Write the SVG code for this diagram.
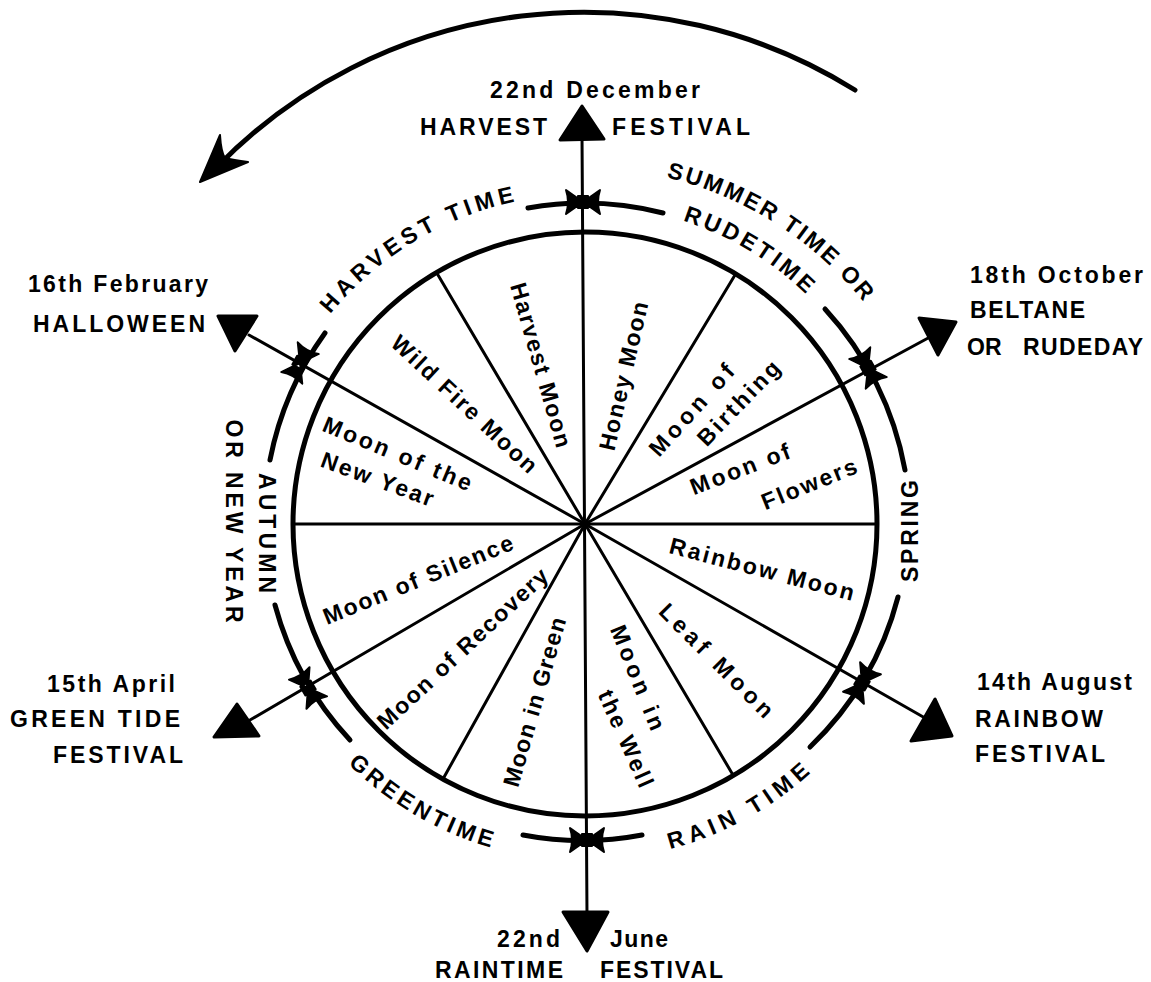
<svg xmlns="http://www.w3.org/2000/svg" width="1151" height="982" viewBox="0 0 1151 982">
<style>
.t{font-family:"Liberation Sans",Arial,Helvetica,sans-serif;font-weight:bold;fill:#000}
.L{font-size:23px}
.m{font-size:23px}
.ln{stroke:#000;stroke-width:3;fill:none;stroke-linecap:round}
.arc{stroke:#000;stroke-width:5;fill:none;stroke-linecap:round}
.head{fill:#000;stroke:#000;stroke-width:3;stroke-linejoin:round}
</style>
<defs>
<path id="bow" d="M0,0 L-17,-12 Q-13,0 -17,12 Z M0,0 L17,-12 Q13,0 17,12 Z M-5,-6 L5,-6 L5,6 L-5,6 Z" stroke="#000" stroke-width="2" stroke-linejoin="round"/>
<path id="pHarvestTime" d="M273.0,416.6 A330,330 0 0 1 636.6,198.1"/>
<path id="pSummer" d="M538.4,170.1 A361,361 0 0 1 925.5,416.6"/>
<path id="pRude" d="M536.3,209.8 A315,315 0 0 1 886.0,421.5"/>
<path id="pRain" d="M520.3,853.7 A336,336 0 0 0 898.5,645.0"/>
<path id="pGreen" d="M268.0,638.4 A337,337 0 0 0 642.7,856.0"/>
</defs>
<rect width="1151" height="982" fill="#fff"/>

<g id="wheel">
<circle cx="585" cy="524" r="292" fill="none" stroke="#000" stroke-width="5"/>
<line class="ln" x1="293" y1="524" x2="877" y2="524"/>
<line class="ln" x1="585" y1="524" x2="438" y2="275"/>
<line class="ln" x1="585" y1="524" x2="735" y2="275"/>
<line class="ln" x1="585" y1="524" x2="733" y2="775"/>
<line class="ln" x1="585" y1="524" x2="443" y2="779"/>
</g>

<g id="connectors">
<line class="ln" x1="582" y1="136" x2="587" y2="915"/>
<line class="ln" x1="585" y1="524" x2="249" y2="335"/>
<line class="ln" x1="585" y1="524" x2="930" y2="337"/>
<line class="ln" x1="585" y1="524" x2="250" y2="720"/>
<line class="ln" x1="585" y1="524" x2="925" y2="718"/>
<path class="arc" d="M528,208 A321,321 0 0 1 663,213"/>
<path class="arc" d="M825,309 A322,322 0 0 1 905,470"/>
<path class="arc" d="M898,597 A319,319 0 0 1 810,747"/>
<path class="arc" d="M523,835 A317,317 0 0 0 642,835"/>
<path class="arc" d="M275,605 A320,320 0 0 0 350,740"/>
<path class="arc" d="M325,333 A322,322 0 0 0 270,460"/>
<use href="#bow" transform="translate(583,202)"/>
<use href="#bow" transform="translate(868,368) rotate(61)"/>
<use href="#bow" transform="translate(862,683) rotate(-60)"/>
<use href="#bow" transform="translate(587,840)"/>
<use href="#bow" transform="translate(308,688) rotate(59)"/>
<use href="#bow" transform="translate(300,363) rotate(-61)"/>
<polygon class="head" points="582,106 604,139 560,140"/>
<polygon class="head" points="563,912 608,912 587,951"/>
<polygon class="head" points="218,316 257,316 235,351"/>
<polygon class="head" points="919,318 956,322 938,355"/>
<polygon class="head" points="237,704 214,737 259,736"/>
<polygon class="head" points="935,699 911,741 952,736"/>
<path d="M855,90 A512,512 0 0 0 216,168" fill="none" stroke="#000" stroke-width="5" stroke-linecap="round"/>
<path d="M200,182 L220,135 Q221,152 225,158 Q233,160 248,162 Z" fill="#000" stroke="#000" stroke-width="2" stroke-linejoin="round"/>
</g>

<g id="n-dec22">
<text class="t L" x="490" y="98" textLength="210" lengthAdjust="spacing">22nd December</text>
<text class="t L" x="420" y="135" textLength="127" lengthAdjust="spacing">HARVEST</text>
<text class="t L" x="612" y="135" textLength="138" lengthAdjust="spacing">FESTIVAL</text>
</g>
<g id="n-feb16">
<text class="t L" x="28" y="292" textLength="180" lengthAdjust="spacing">16th February</text>
<text class="t L" x="33" y="332" textLength="172" lengthAdjust="spacing">HALLOWEEN</text>
</g>
<g id="n-oct18">
<text class="t L" x="970" y="283" textLength="173" lengthAdjust="spacing">18th October</text>
<text class="t L" x="970" y="318" textLength="115" lengthAdjust="spacing">BELTANE</text>
<text class="t L" x="967" y="355">OR</text>
<text class="t L" x="1023" y="355" textLength="120" lengthAdjust="spacing">RUDEDAY</text>
</g>
<g id="n-apr15">
<text class="t L" x="47" y="692" textLength="128" lengthAdjust="spacing">15th April</text>
<text class="t L" x="10" y="727" textLength="170" lengthAdjust="spacing">GREEN TIDE</text>
<text class="t L" x="53" y="763" textLength="130" lengthAdjust="spacing">FESTIVAL</text>
</g>
<g id="n-aug14">
<text class="t L" x="977" y="690" textLength="155" lengthAdjust="spacing">14th August</text>
<text class="t L" x="975" y="727" textLength="128" lengthAdjust="spacing">RAINBOW</text>
<text class="t L" x="975" y="762" textLength="130" lengthAdjust="spacing">FESTIVAL</text>
</g>
<g id="n-jun22">
<text class="t L" x="497" y="947" textLength="63" lengthAdjust="spacing">22nd</text>
<text class="t L" x="610" y="947" textLength="58" lengthAdjust="spacing">June</text>
<text class="t L" x="435" y="978" textLength="128" lengthAdjust="spacing">RAINTIME</text>
<text class="t L" x="600" y="978" textLength="123" lengthAdjust="spacing">FESTIVAL</text>
</g>

<g id="seasons">
<text class="t L" letter-spacing="4.5" text-anchor="middle"><textPath href="#pHarvestTime" startOffset="50%">HARVEST TIME</textPath></text>
<text class="t L" letter-spacing="2.5" text-anchor="middle"><textPath href="#pSummer" startOffset="50%">SUMMER TIME OR</textPath></text>
<text class="t L" letter-spacing="3.5" text-anchor="middle"><textPath href="#pRude" startOffset="50%">RUDETIME</textPath></text>
<text class="t L" letter-spacing="5.5" text-anchor="middle"><textPath href="#pRain" startOffset="50%">RAIN TIME</textPath></text>
<text class="t L" letter-spacing="3.8" text-anchor="middle"><textPath href="#pGreen" startOffset="50%">GREENTIME</textPath></text>
<text class="t L" text-anchor="middle" transform="translate(918,531) rotate(-90)" textLength="102" lengthAdjust="spacing">SPRING</text>
<text class="t L" text-anchor="middle" transform="translate(259,533) rotate(90)" textLength="120" lengthAdjust="spacing">AUTUMN</text>
<text class="t L" text-anchor="middle" transform="translate(226,521) rotate(90)" textLength="203" lengthAdjust="spacing">OR NEW YEAR</text>
</g>

<g id="moons">
<g id="m-harvest"><text class="t m" text-anchor="middle" y="8" transform="translate(541,365) rotate(74)" textLength="170" lengthAdjust="spacing">Harvest Moon</text></g>
<g id="m-wildfire"><text class="t m" text-anchor="middle" y="8" transform="translate(464.5,404) rotate(43)" textLength="190" lengthAdjust="spacing">Wild Fire Moon</text></g>
<g id="m-honey"><text class="t m" text-anchor="middle" y="8" transform="translate(623.5,376) rotate(-77)" textLength="152" lengthAdjust="spacing">Honey Moon</text></g>
<g id="m-birthing">
<text class="t m" text-anchor="middle" y="8" transform="translate(691.5,410) rotate(-48)" textLength="115" lengthAdjust="spacing">Moon of</text>
<text class="t m" text-anchor="middle" y="8" transform="translate(738.5,403) rotate(-46)" textLength="108" lengthAdjust="spacing">Birthing</text>
</g>
<g id="m-flowers">
<text class="t m" text-anchor="middle" y="8" transform="translate(740,469) rotate(-21)" textLength="105" lengthAdjust="spacing">Moon of</text>
<text class="t m" text-anchor="middle" y="8" transform="translate(809,484) rotate(-22)" textLength="101" lengthAdjust="spacing">Flowers</text>
</g>
<g id="m-rainbow"><text class="t m" text-anchor="middle" y="8" transform="translate(762,569) rotate(14.6)" textLength="190" lengthAdjust="spacing">Rainbow Moon</text></g>
<g id="m-leaf"><text class="t m" text-anchor="middle" y="8" transform="translate(716.5,660.5) rotate(45)" textLength="151" lengthAdjust="spacing">Leaf Moon</text></g>
<g id="m-well">
<text class="t m" text-anchor="middle" y="8" transform="translate(638,677.5) rotate(68)" textLength="111" lengthAdjust="spacing">Moon in</text>
<text class="t m" text-anchor="middle" y="8" transform="translate(626,738.5) rotate(66)" textLength="104" lengthAdjust="spacing">the Well</text>
</g>
<g id="m-green"><text class="t m" text-anchor="middle" y="8" transform="translate(534.5,702) rotate(-74)" textLength="175" lengthAdjust="spacing">Moon in Green</text></g>
<g id="m-recovery"><text class="t m" text-anchor="middle" y="8" transform="translate(462.5,648.5) rotate(-43)" textLength="224" lengthAdjust="spacing">Moon of Recovery</text></g>
<g id="m-silence"><text class="t m" text-anchor="middle" y="8" transform="translate(418,579.5) rotate(-22)" textLength="203" lengthAdjust="spacing">Moon of Silence</text></g>
<g id="m-newyear">
<text class="t m" text-anchor="middle" y="8" transform="translate(397.5,453.5) rotate(22.5)" textLength="159" lengthAdjust="spacing">Moon of the</text>
<text class="t m" text-anchor="middle" y="8" transform="translate(377.5,479) rotate(20)" textLength="118" lengthAdjust="spacing">New Year</text>
</g>
</g>
</svg>
